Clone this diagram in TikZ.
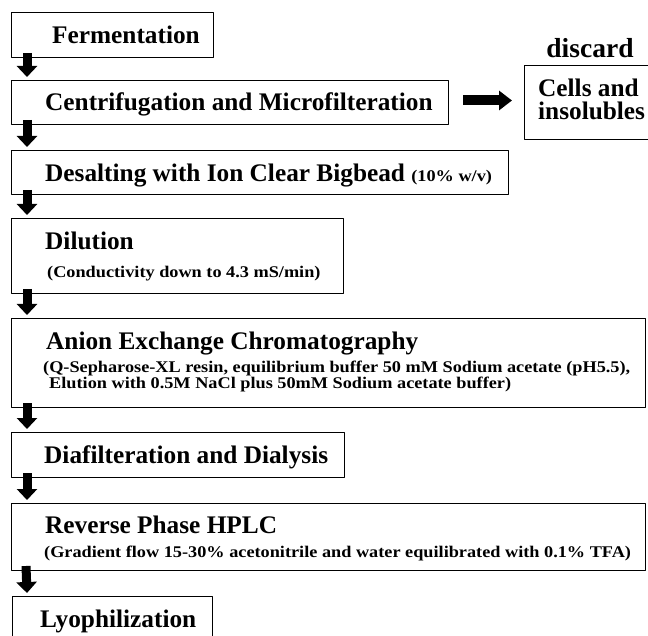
\documentclass[tikz,border=0pt]{standalone}
\usepackage{fontspec}
\setmainfont{Liberation Serif}
\newfontfamily\widefam[FakeStretch=1.12]{Liberation Serif}
\usetikzlibrary{arrows.meta}
\newcommand{\headfont}{\fontsize{25.3pt}{28pt}\selectfont\bfseries}
\newcommand{\subfont}{\widefam\fontsize{16.3pt}{18pt}\selectfont\bfseries}
\newcommand{\tagfont}{\fontsize{27.5pt}{30pt}\selectfont\bfseries}

\begin{document}
\begin{tikzpicture}[line cap=round,line join=round,x=1pt,y=1pt,
  stepbox/.style={draw,line width=1pt,anchor=north west,inner sep=0pt},
  steptext/.style={anchor=base west,inner sep=0pt},
  flow/.style={line width=9pt,line cap=butt,-{Triangle[width=20pt,length=11pt]}},
  waste/.style={line width=10pt,line cap=butt,-{Triangle[width=19pt,length=13pt]}}]
\useasboundingbox (0,0) rectangle (648,-636);
\clip (0,0) rectangle (648,-636);
% process steps
\node[stepbox,minimum width=202pt,minimum height=45pt] (ferm) at (11,-12) {};
\node[stepbox,minimum width=437pt,minimum height=44pt] (centri) at (11,-80) {};
\node[stepbox,minimum width=136pt,minimum height=74pt] (cells) at (524,-65) {};
\node[stepbox,minimum width=497pt,minimum height=44pt] (desalt) at (11,-150) {};
\node[stepbox,minimum width=332pt,minimum height=75pt] (dil) at (11,-218) {};
\node[stepbox,minimum width=634pt,minimum height=89pt] (anion) at (11,-318) {};
\node[stepbox,minimum width=333pt,minimum height=45pt] (dia) at (11,-432) {};
\node[stepbox,minimum width=634pt,minimum height=67pt] (rev) at (11,-503) {};
\node[stepbox,minimum width=200pt,minimum height=54pt] (lyo) at (12,-596) {};
% texts
\node[steptext] (fermT) at (52,-44) {\headfont Fermentation};
\node[steptext] (centriT) at (45,-111) {\headfont Centrifugation and Microfilteration};
\node[anchor=base,inner sep=0pt] (discard) at (590,-58) {\tagfont discard};
\node[steptext] (cellsA) at (538,-97) {\headfont Cells and};
\node[steptext] (cellsB) at (538,-120) {\headfont insolubles};
\node[steptext] (desaltT) at (45,-182) {\headfont Desalting with Ion Clear Bigbead {\subfont (10\% w/v)}};
\node[steptext] (dilT) at (45,-250) {\headfont Dilution};
\node[steptext] (dilS) at (47,-278) {\subfont (Conductivity down to 4.3 mS/min)};
\node[steptext] (anionT) at (46,-349) {\headfont Anion Exchange Chromatography};
\node[steptext] (anionA) at (43,-372) {\subfont (Q-Sepharose-XL resin, equilibrium buffer 50 mM Sodium acetate (pH5.5),};
\node[steptext] (anionB) at (49,-388) {\subfont Elution with 0.5M NaCl plus 50mM Sodium acetate buffer)};
\node[steptext] (diaT) at (44,-463) {\headfont Diafilteration and Dialysis};
\node[steptext] (revT) at (45,-533) {\headfont Reverse Phase HPLC};
\node[steptext] (revS) at (44,-557) {\subfont (Gradient flow 15-30\% acetonitrile and water equilibrated with 0.1\% TFA)};
\node[steptext] (lyoT) at (40,-627) {\headfont Lyophilization};
% arrows
\draw[flow] ([xshift=16pt,yshift=5pt]ferm.south west) -- ([xshift=16pt,yshift=3pt]centri.north west);
\draw[flow] ([xshift=16pt,yshift=5pt]centri.south west) -- ([xshift=16pt,yshift=3pt]desalt.north west);
\draw[flow] ([xshift=16pt,yshift=5pt]desalt.south west) -- ([xshift=16pt,yshift=3pt]dil.north west);
\draw[flow] ([xshift=16pt,yshift=5pt]dil.south west) -- ([xshift=16pt,yshift=3pt]anion.north west);
\draw[flow] ([xshift=16pt,yshift=5pt]anion.south west) -- ([xshift=16pt,yshift=3pt]dia.north west);
\draw[flow] ([xshift=16pt,yshift=5pt]dia.south west) -- ([xshift=16pt,yshift=3pt]rev.north west);
\draw[flow] ([xshift=15pt,yshift=5pt]rev.south west) -- ([xshift=15pt,yshift=3pt]lyo.north west);
\draw[waste] ([xshift=14pt,yshift=2pt]centri.east) -- ([xshift=-12pt,yshift=2pt]centri.east -| cells.west);
\end{tikzpicture}
\end{document}
